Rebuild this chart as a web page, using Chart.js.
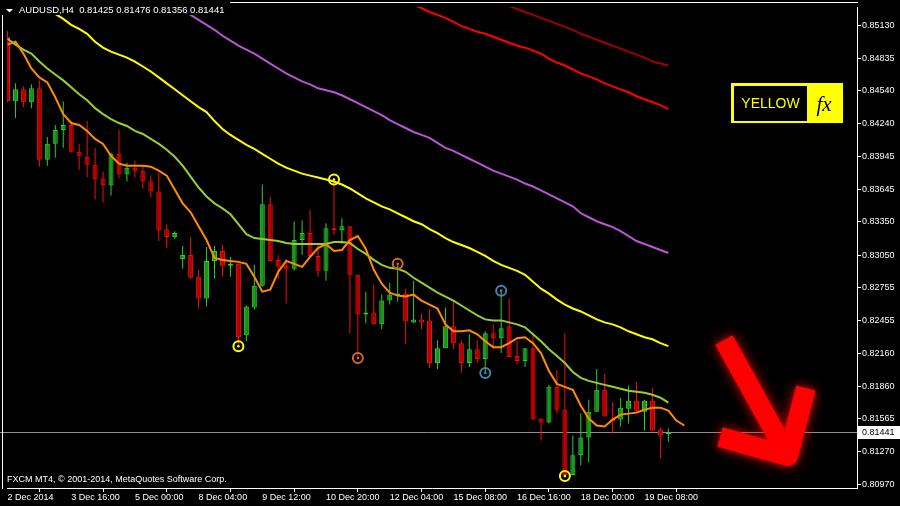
<!DOCTYPE html>
<html>
<head>
<meta charset="utf-8">
<script src="https://cdn.jsdelivr.net/npm/chart.js@4.4.1/dist/chart.umd.min.js"></script>
<style>
  html, body { margin: 0; padding: 0; background: #000; }
</style>
</head>
<body>
<canvas id="chart" width="900" height="506"></canvas>
<script>
const symbolTitle = 'AUDUSD,H4  0.81425 0.81476 0.81356 0.81441';
const copyright = 'FXCM MT4, \u00a9 2001-2014, MetaQuotes Software Corp.';

// H4 candles, bar 0 = 2 Dec 2014 08:00
const opens = [
  0.85031, 0.84446, 0.84554, 0.84437, 0.84563, 0.83915, 0.84059, 0.84185, 0.84230, 0.83987,
  0.83942, 0.83870, 0.83744, 0.83681, 0.83969, 0.83780, 0.83843, 0.83816, 0.83717, 0.83627,
  0.83285, 0.83213, 0.83015, 0.83051, 0.82853, 0.82655, 0.82997, 0.83087, 0.82952, 0.82970,
  0.82322, 0.82574, 0.82772, 0.83510, 0.83006, 0.82952, 0.82925, 0.83186, 0.83249, 0.83042,
  0.82907, 0.83294, 0.83276, 0.83312, 0.82871, 0.82511, 0.82529, 0.82421, 0.82637, 0.82682,
  0.82700, 0.82439, 0.82466, 0.82457, 0.82070, 0.82205, 0.82403, 0.82250, 0.82070, 0.82196,
  0.82106, 0.82340, 0.82295, 0.82403, 0.82133, 0.82088, 0.82205, 0.81566, 0.81530, 0.81854,
  0.81647, 0.81053, 0.81233, 0.81395, 0.81629, 0.81827, 0.81566, 0.81557, 0.81656, 0.81728,
  0.81629, 0.81728, 0.81467, 0.81425
];
const highs = [
  0.85085, 0.84608, 0.84581, 0.84599, 0.84635, 0.84122, 0.84230, 0.84446, 0.84266, 0.84059,
  0.84266, 0.84023, 0.83807, 0.83978, 0.84185, 0.83888, 0.83906, 0.83861, 0.83771, 0.83798,
  0.83330, 0.83267, 0.83132, 0.83213, 0.82916, 0.83123, 0.83132, 0.83141, 0.83033, 0.82979,
  0.82592, 0.82961, 0.83690, 0.83582, 0.83051, 0.83015, 0.83357, 0.83366, 0.83456, 0.83150,
  0.83339, 0.83735, 0.83384, 0.83312, 0.82871, 0.82718, 0.82781, 0.82691, 0.82799, 0.82970,
  0.82745, 0.82817, 0.82520, 0.82556, 0.82277, 0.82574, 0.82646, 0.82277, 0.82331, 0.82277,
  0.82358, 0.82421, 0.82727, 0.82655, 0.82268, 0.82205, 0.82331, 0.81566, 0.81872, 0.82007,
  0.82340, 0.81413, 0.81611, 0.81737, 0.82016, 0.81971, 0.81719, 0.81755, 0.81863, 0.81899,
  0.81737, 0.81845, 0.81485, 0.81476
];
const lows = [
  0.84437, 0.84293, 0.84392, 0.84383, 0.83852, 0.83861, 0.83933, 0.84023, 0.83978, 0.83825,
  0.83753, 0.83555, 0.83528, 0.83591, 0.83744, 0.83717, 0.83753, 0.83654, 0.83573, 0.83177,
  0.83114, 0.83195, 0.82925, 0.82835, 0.82565, 0.82583, 0.82835, 0.82853, 0.82853, 0.82223,
  0.82268, 0.82556, 0.82763, 0.82997, 0.82835, 0.82610, 0.82907, 0.83051, 0.83042, 0.82853,
  0.82817, 0.83231, 0.83150, 0.82340, 0.82115, 0.82430, 0.82421, 0.82376, 0.82601, 0.82628,
  0.82241, 0.82430, 0.82376, 0.82025, 0.82016, 0.82205, 0.82196, 0.81980, 0.82034, 0.82070,
  0.81980, 0.82205, 0.82160, 0.82124, 0.82061, 0.82034, 0.81557, 0.81368, 0.81521, 0.81611,
  0.81044, 0.81053, 0.81143, 0.81170, 0.81629, 0.81584, 0.81431, 0.81494, 0.81521, 0.81629,
  0.81458, 0.81458, 0.81206, 0.81356
];
const closes = [
  0.84446, 0.84554, 0.84437, 0.84563, 0.83915, 0.84059, 0.84185, 0.84230, 0.83987, 0.83951,
  0.83870, 0.83735, 0.83681, 0.83969, 0.83780, 0.83843, 0.83816, 0.83717, 0.83627, 0.83276,
  0.83213, 0.83249, 0.83051, 0.82844, 0.82655, 0.82997, 0.83087, 0.82952, 0.82970, 0.82304,
  0.82583, 0.82772, 0.83510, 0.82997, 0.82943, 0.82925, 0.83186, 0.83249, 0.83042, 0.82907,
  0.83294, 0.83276, 0.83312, 0.82871, 0.82511, 0.82529, 0.82421, 0.82637, 0.82691, 0.82700,
  0.82448, 0.82466, 0.82439, 0.82070, 0.82205, 0.82403, 0.82250, 0.82070, 0.82196, 0.82106,
  0.82340, 0.82295, 0.82385, 0.82124, 0.82088, 0.82205, 0.81557, 0.81530, 0.81854, 0.81647,
  0.81053, 0.81233, 0.81395, 0.81629, 0.81827, 0.81584, 0.81539, 0.81665, 0.81728, 0.81638,
  0.81728, 0.81458, 0.81413, 0.81441
];

// moving averages (first bar index of each line given separately)
const orangeMA = [
  0.84959, 0.84986, 0.84878, 0.84743, 0.84662, 0.84617, 0.84482, 0.84329, 0.84248, 0.84230,
  0.84176, 0.84104, 0.84059, 0.83951, 0.83879, 0.83861, 0.83861, 0.83861, 0.83852, 0.83816,
  0.83771, 0.83645, 0.83519, 0.83438, 0.83312, 0.83186, 0.83024, 0.83006, 0.82997, 0.82988,
  0.82970, 0.82853, 0.82718, 0.82736, 0.82898, 0.82997, 0.82970, 0.82943, 0.83033, 0.83114,
  0.83150, 0.83087, 0.83096, 0.83186, 0.83222, 0.83105, 0.82916, 0.82790, 0.82709, 0.82682,
  0.82673, 0.82691, 0.82637, 0.82601, 0.82565, 0.82421, 0.82358, 0.82358, 0.82367, 0.82331,
  0.82268, 0.82214, 0.82214, 0.82250, 0.82295, 0.82304, 0.82250, 0.82160, 0.81998, 0.81881,
  0.81854, 0.81827, 0.81683, 0.81566, 0.81503, 0.81494, 0.81557, 0.81602, 0.81611, 0.81620,
  0.81647, 0.81665, 0.81665, 0.81638, 0.81548, 0.81503
];
const greenMA = [
  0.85013, 0.84959, 0.84914, 0.84878, 0.84806, 0.84743, 0.84689, 0.84635, 0.84572, 0.84509,
  0.84455, 0.84383, 0.84329, 0.84284, 0.84248, 0.84221, 0.84176, 0.84149, 0.84104, 0.84059,
  0.84005, 0.83942, 0.83861, 0.83762, 0.83663, 0.83582, 0.83519, 0.83474, 0.83420, 0.83330,
  0.83240, 0.83204, 0.83195, 0.83186, 0.83177, 0.83159, 0.83150, 0.83150, 0.83150, 0.83150,
  0.83150, 0.83168, 0.83168, 0.83159, 0.83105, 0.83060, 0.83006, 0.82961, 0.82934, 0.82925,
  0.82898, 0.82844, 0.82799, 0.82754, 0.82709, 0.82673, 0.82637, 0.82592, 0.82547, 0.82502,
  0.82466, 0.82457, 0.82457, 0.82439, 0.82421, 0.82394, 0.82331, 0.82268, 0.82196, 0.82133,
  0.82070, 0.81989, 0.81935, 0.81908, 0.81890, 0.81872, 0.81854, 0.81836, 0.81818, 0.81809,
  0.81800, 0.81782, 0.81755, 0.81710
];
const yellowMA = [
  0.85553, 0.85499, 0.85445, 0.85391, 0.85346, 0.85292, 0.85238, 0.85193, 0.85139, 0.85103,
  0.85058, 0.84986, 0.84932, 0.84896, 0.84869, 0.84842, 0.84806, 0.84761, 0.84716, 0.84662,
  0.84608, 0.84554, 0.84500, 0.84446, 0.84392, 0.84347, 0.84266, 0.84194, 0.84140, 0.84095,
  0.84050, 0.84014, 0.83969, 0.83924, 0.83879, 0.83843, 0.83816, 0.83789, 0.83771, 0.83753,
  0.83735, 0.83717, 0.83690, 0.83654, 0.83609, 0.83564, 0.83528, 0.83492, 0.83465, 0.83429,
  0.83393, 0.83357, 0.83330, 0.83285, 0.83249, 0.83204, 0.83168, 0.83141, 0.83114, 0.83078,
  0.83042, 0.82997, 0.82961, 0.82934, 0.82907, 0.82871, 0.82808, 0.82745, 0.82700, 0.82646,
  0.82601, 0.82565, 0.82538, 0.82502, 0.82466, 0.82439, 0.82421, 0.82394, 0.82358, 0.82331,
  0.82304, 0.82286, 0.82250, 0.82223
];
const purpleStart = 19;
const purpleMA = [
  0.85400, 0.85355, 0.85310, 0.85265, 0.85229, 0.85184, 0.85139, 0.85094, 0.85040,
  0.84995, 0.84950, 0.84914, 0.84878, 0.84833, 0.84788, 0.84743, 0.84698, 0.84662, 0.84626,
  0.84599, 0.84563, 0.84545, 0.84527, 0.84500, 0.84464, 0.84428, 0.84392, 0.84356, 0.84320,
  0.84275, 0.84239, 0.84203, 0.84167, 0.84140, 0.84113, 0.84068, 0.84023, 0.83996, 0.83960,
  0.83924, 0.83888, 0.83852, 0.83816, 0.83789, 0.83762, 0.83735, 0.83699, 0.83672, 0.83636,
  0.83600, 0.83564, 0.83528, 0.83492, 0.83429, 0.83393, 0.83357, 0.83330, 0.83303, 0.83267,
  0.83222, 0.83177, 0.83150, 0.83123, 0.83096, 0.83069
];
const redStart = 50;
const redMA = [
  0.85346, 0.85319, 0.85292, 0.85256, 0.85229, 0.85202, 0.85166, 0.85130, 0.85103, 0.85076,
  0.85058, 0.85031, 0.85004, 0.84977, 0.84950, 0.84932, 0.84905, 0.84878, 0.84833, 0.84797,
  0.84770, 0.84734, 0.84698, 0.84671, 0.84644, 0.84608, 0.84581, 0.84554, 0.84527, 0.84491,
  0.84464, 0.84437, 0.84410, 0.84374
];
const darkRedStart = 62;
const darkRedMA = [
  0.85337, 0.85310, 0.85283, 0.85256, 0.85229, 0.85202, 0.85175, 0.85148, 0.85121, 0.85094,
  0.85058, 0.85031, 0.85004, 0.84977, 0.84950, 0.84923, 0.84896, 0.84869, 0.84842, 0.84806,
  0.84788, 0.84770
];

// circled swing points
const yellowMarkBars = [29, 41, 70];
const yellowMarkPrices = [0.82223, 0.83735, 0.81044];
const orangeMarkBars = [44, 49];
const orangeMarkPrices = [0.82115, 0.82970];
const blueMarkBars = [60, 62];
const blueMarkPrices = [0.81980, 0.82727];

const xTickBars = [0, 8, 16, 24, 32, 40, 48, 56, 64, 72, 80];
const xTickLabels = ['2 Dec 2014', '3 Dec 16:00', '5 Dec 00:00', '8 Dec 04:00', '9 Dec 12:00',
  '10 Dec 20:00', '12 Dec 04:00', '15 Dec 08:00', '16 Dec 16:00', '18 Dec 00:00', '19 Dec 08:00'];
const yTicks = [0.85130, 0.84835, 0.84540, 0.84240, 0.83945, 0.83645, 0.83350, 0.83050,
  0.82755, 0.82455, 0.82160, 0.81860, 0.81565, 0.81270, 0.80970];

const axisFont = { family: 'Liberation Sans', size: 9 };

function series(values, start) {
  return values.map((v, k) => ({ x: start + k, y: v }));
}
function marks(bars, prices) {
  return bars.map((b, k) => ({ x: b, y: prices[k] }));
}
function ring(bars, prices, color) {
  return { type: 'line', data: marks(bars, prices), showLine: false, pointRadius: 5,
    pointBorderColor: color, pointBackgroundColor: 'rgba(0,0,0,0)', pointBorderWidth: 2, order: 0 };
}
function dot(bars, prices, color) {
  return { type: 'line', data: marks(bars, prices), showLine: false, pointRadius: 1.3,
    pointBackgroundColor: color, pointBorderWidth: 0, order: 0 };
}
function maLine(values, start, color, order) {
  return { type: 'line', data: series(values, start), borderColor: color, borderWidth: 2,
    pointRadius: 0, order: order };
}

const bull = closes.map((c, i) => c >= opens[i]);
const lastClose = closes[closes.length - 1];

const overlay = {
  id: 'overlay',
  beforeDraw(chart) {
    const ctx = chart.ctx;
    ctx.save();
    ctx.fillStyle = '#000';
    ctx.fillRect(0, 0, chart.width, chart.height);
    ctx.restore();
  },
  beforeDatasetsDraw(chart) {
    const ctx = chart.ctx;
    const area = chart.chartArea;
    const y = Math.round(chart.scales.y.getPixelForValue(lastClose)) + 0.5;
    ctx.save();
    ctx.strokeStyle = '#909090';
    ctx.lineWidth = 1;
    ctx.beginPath();
    ctx.moveTo(0, y);
    ctx.lineTo(area.right, y);
    ctx.stroke();
    ctx.restore();
  },
  afterDraw(chart) {
    const ctx = chart.ctx;
    const area = chart.chartArea;
    ctx.save();

    // header strip
    ctx.fillStyle = '#000';
    ctx.fillRect(0, 0, 230, 15);
    ctx.fillStyle = '#fff';
    ctx.fillRect(230, 2, area.right - 229, 1);
    ctx.fillRect(2, 15, 1, area.bottom - 14);
    ctx.beginPath();
    ctx.moveTo(6, 9); ctx.lineTo(13, 9); ctx.lineTo(9.5, 12.5); ctx.closePath();
    ctx.fill();
    ctx.font = '9.5px "Liberation Sans"';
    ctx.textBaseline = 'middle';
    ctx.textAlign = 'left';
    ctx.fillText(symbolTitle, 19, 10);
    ctx.font = '9px "Liberation Sans"';
    ctx.fillText(copyright, 7, 480);

    // current price tag
    const py = Math.round(chart.scales.y.getPixelForValue(lastClose));
    ctx.fillStyle = '#fff';
    ctx.fillRect(858, py - 6, 42, 13);
    ctx.fillStyle = '#000';
    ctx.fillText(lastClose.toFixed(5), 862, py + 1);

    // logo
    ctx.fillStyle = '#ffff00';
    ctx.fillRect(731, 83, 112, 40);
    ctx.fillStyle = '#000';
    ctx.fillRect(734, 86, 73, 35);
    ctx.fillStyle = '#ffff00';
    ctx.font = '14px "Liberation Sans"';
    ctx.textAlign = 'center';
    ctx.fillText('YELLOW', 770.5, 104.5);
    ctx.fillStyle = '#000';
    ctx.font = 'italic 21px "Liberation Serif"';
    ctx.fillText('fx', 824, 105);

    // arrow
    ctx.shadowColor = 'rgba(255,0,0,0.85)';
    ctx.shadowBlur = 12;
    ctx.strokeStyle = '#ff0000';
    ctx.lineWidth = 20;
    ctx.lineCap = 'butt';
    ctx.lineJoin = 'round';
    ctx.beginPath();
    ctx.moveTo(724, 340); ctx.lineTo(786, 452);
    ctx.stroke();
    ctx.beginPath();
    ctx.moveTo(720, 437); ctx.lineTo(788, 456); ctx.lineTo(806, 388);
    ctx.stroke();
    ctx.restore();
  }
};

const bars = opens.map((o, i) => i);

new Chart(document.getElementById('chart'), {
  type: 'bar',
  data: {
    datasets: [
      dot(yellowMarkBars, yellowMarkPrices, '#ffff00'),
      ring(yellowMarkBars, yellowMarkPrices, '#ffff00'),
      dot(orangeMarkBars, orangeMarkPrices, '#d2691e'),
      ring(orangeMarkBars, orangeMarkPrices, '#d2691e'),
      dot(blueMarkBars, blueMarkPrices, '#4682b4'),
      ring(blueMarkBars, blueMarkPrices, '#4682b4'),

      maLine(orangeMA, 0, '#ff8c00', 1),
      maLine(greenMA, 0, '#9acd32', 2),
      maLine(yellowMA, 0, '#ffff00', 2),
      maLine(purpleMA, purpleStart, '#ba55d3', 2),
      maLine(redMA, redStart, '#ff0000', 2),
      maLine(darkRedMA, darkRedStart, '#a00000', 2),

      { label: 'body', data: bars.map(i => ({ x: i, y: [opens[i], closes[i]] })),
        backgroundColor: bars.map(i => bull[i] ? '#1c961c' : '#b80000'),
        borderColor: bars.map(i => bull[i] ? '#32cd32' : '#ee1111'),
        borderWidth: 1, borderSkipped: false, barThickness: 5, grouped: false, inflateAmount: 0, order: 3 },
      { label: 'wick', data: bars.map(i => ({ x: i, y: [lows[i], highs[i]] })),
        backgroundColor: bars.map(i => bull[i] ? '#32cd32' : '#ee1111'),
        borderWidth: 0, barThickness: 1, grouped: false, inflateAmount: 0, order: 4 }
    ]
  },
  options: {
    responsive: false,
    animation: false,
    events: [],
    layout: { padding: { left: 3, top: 3, right: 0, bottom: 0 } },
    plugins: { legend: { display: false }, tooltip: { enabled: false } },
    scales: {
      x: {
        type: 'linear', position: 'bottom', offset: false,
        min: -0.0625, max: 106.6875,
        afterBuildTicks: s => { s.ticks = xTickBars.map(v => ({ value: v })); },
        afterFit: s => { s.height = 18; s.paddingLeft = 0; s.paddingRight = 0; },
        grid: { drawOnChartArea: false, drawTicks: true, tickLength: 4, color: '#fff', tickColor: '#fff' },
        border: { display: true, color: '#fff' },
        ticks: { color: '#fff', font: axisFont, align: 'start', padding: 0, autoSkip: false,
          maxRotation: 0, minRotation: 0,
          callback: v => xTickLabels[xTickBars.indexOf(v)] }
      },
      y: {
        type: 'linear', position: 'right', beginAtZero: false,
        min: 0.80936, max: 0.85301,
        afterBuildTicks: s => { s.ticks = yTicks.map(v => ({ value: v })); },
        afterFit: s => { s.width = 43; s.paddingTop = 0; s.paddingBottom = 0; },
        grid: { drawOnChartArea: false, drawTicks: true, tickLength: 4, color: '#fff', tickColor: '#fff' },
        border: { display: true, color: '#fff' },
        ticks: { color: '#fff', font: axisFont, padding: 1, autoSkip: false,
          callback: v => v.toFixed(5) }
      }
    }
  },
  plugins: [overlay]
});
</script>
</body>
</html>
